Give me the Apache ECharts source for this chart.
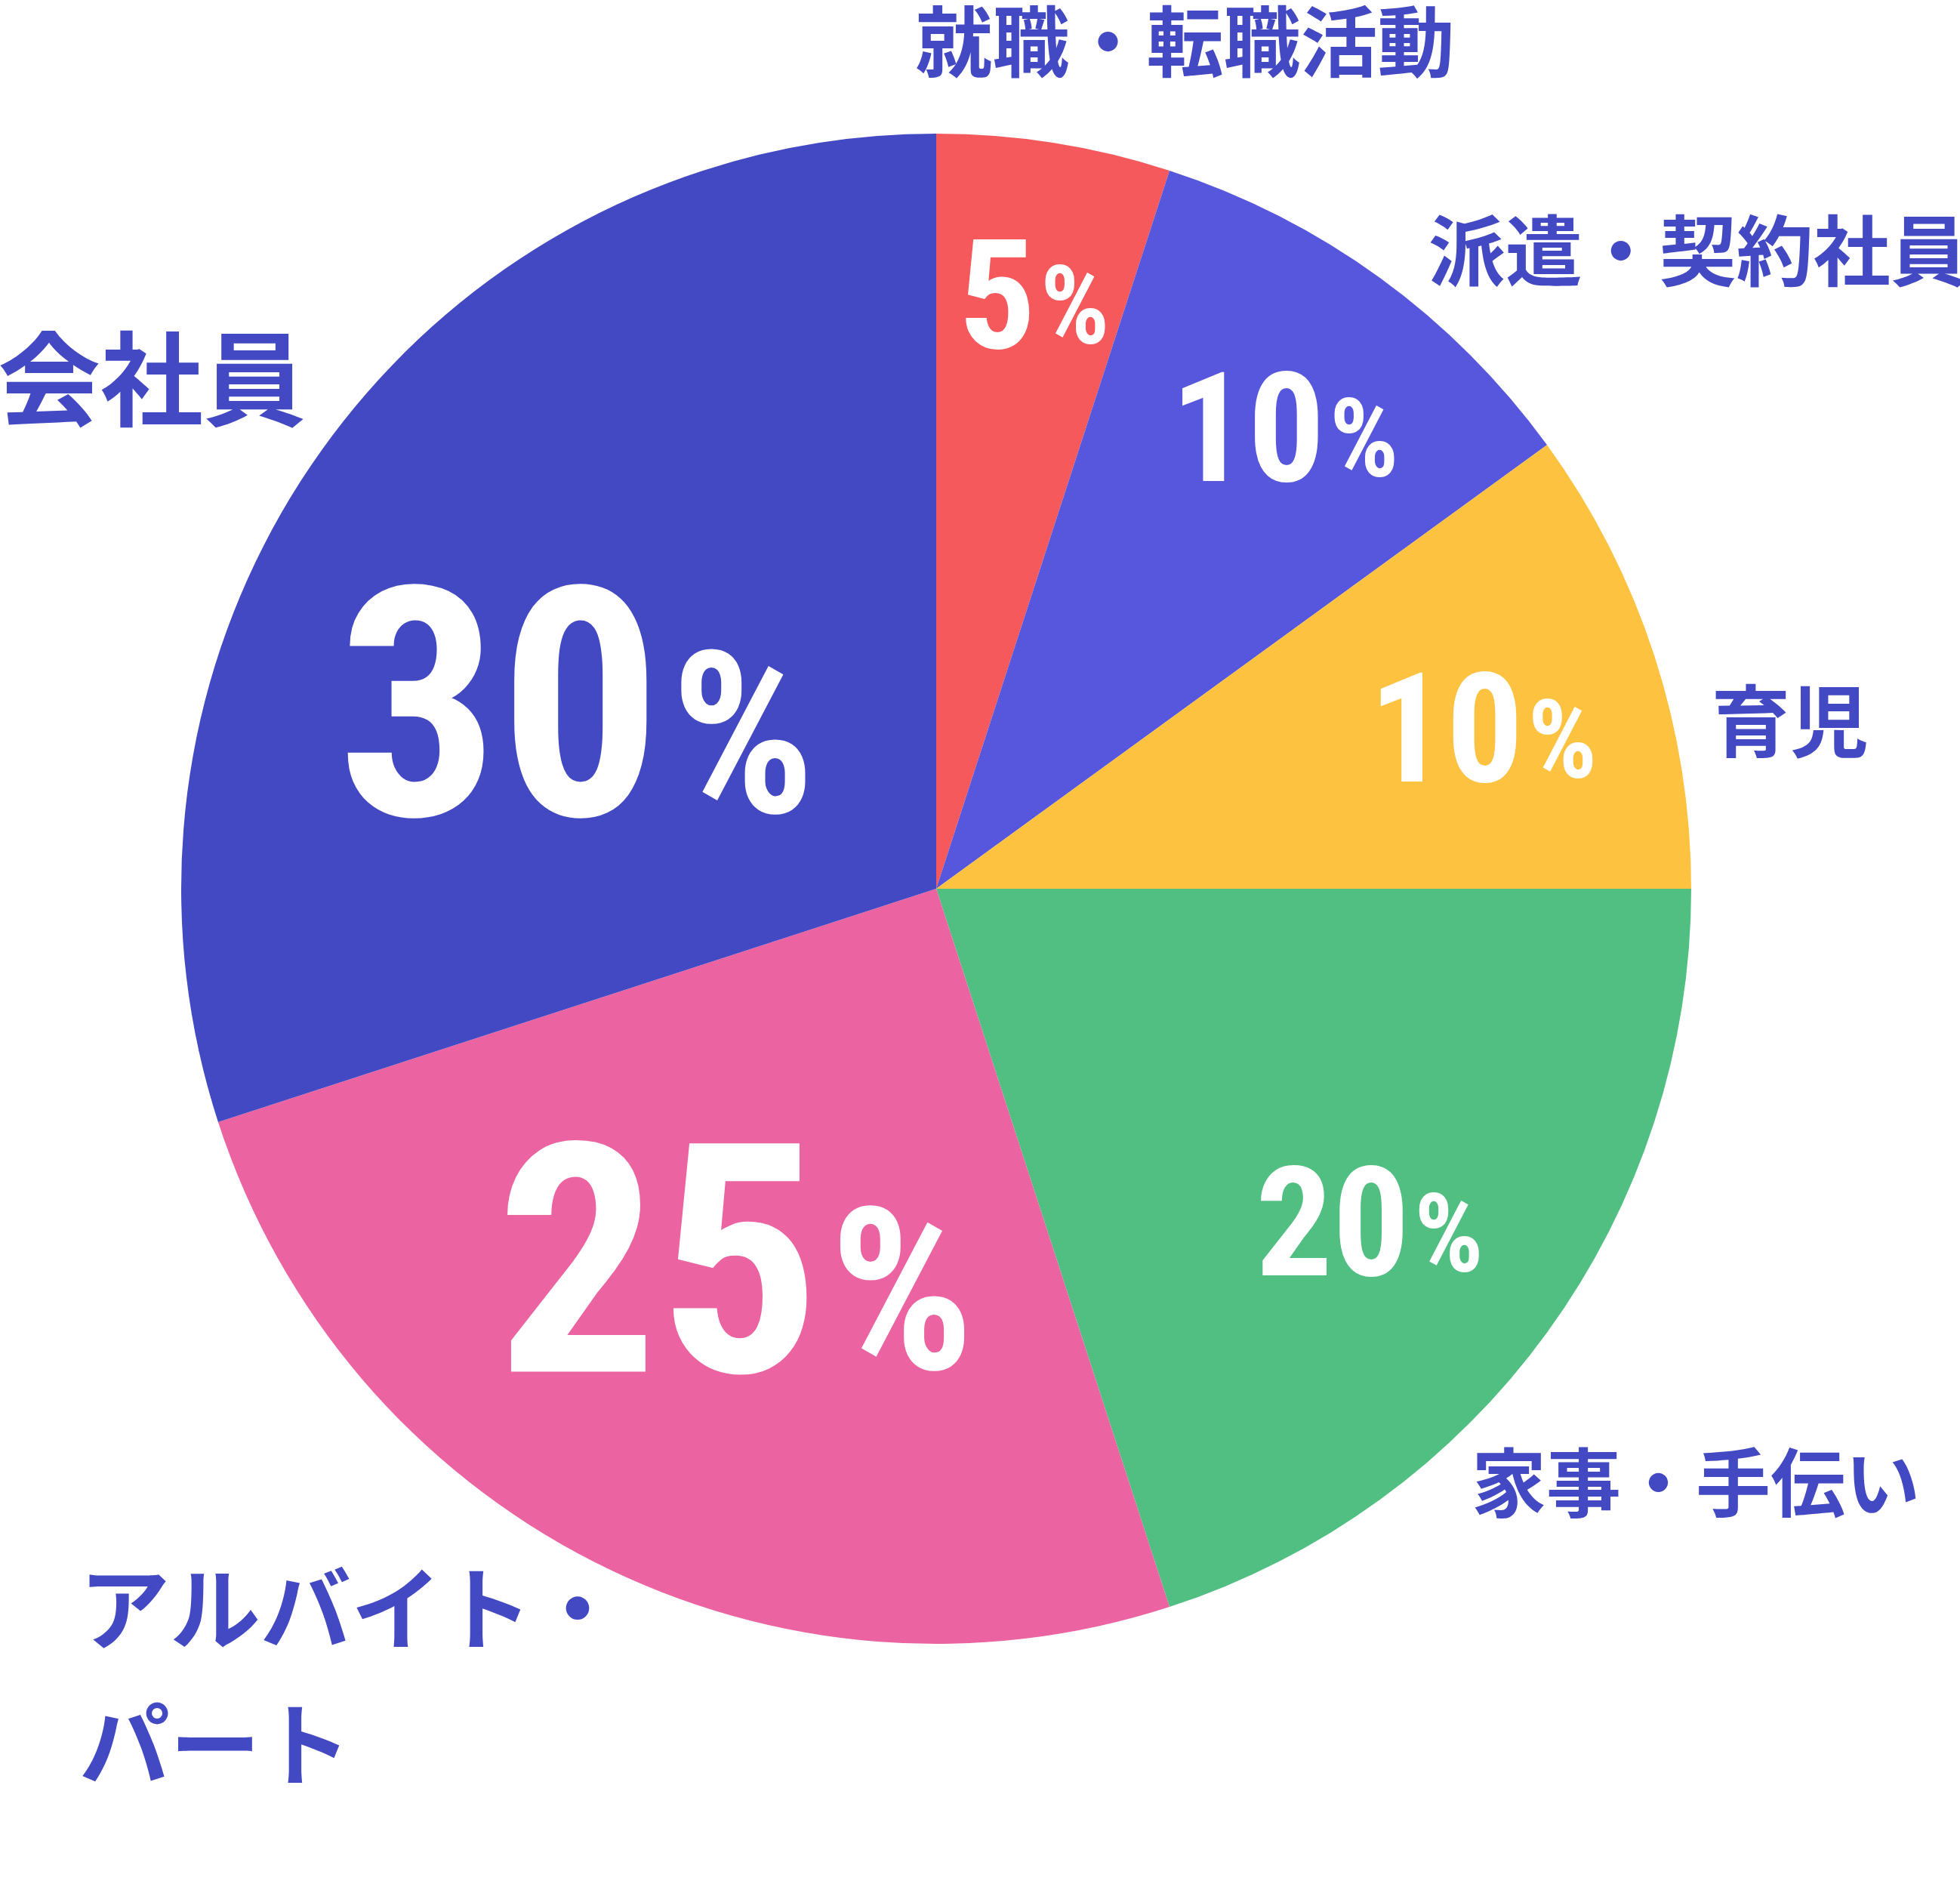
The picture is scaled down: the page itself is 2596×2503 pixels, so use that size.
<!DOCTYPE html>
<html lang="ja">
<head>
    <meta charset="UTF-8">
    <title>円グラフ</title>
    <style>
        html, body { margin: 0; padding: 0; background: #ffffff; }
        #chart { width: 2596px; height: 2503px; }
    </style>
</head>
<body>
    <div id="chart"></div>
    <script src="https://cdn.jsdelivr.net/npm/echarts@6/dist/echarts.min.js"></script>
    <script>
        // 項目名と割合（%）
        const categories = ['就職・転職活動', '派遣・契約社員', '育児', '家事・手伝い', 'アルバイト・\nパート', '会社員'];
        const values = [5, 10, 10, 20, 25, 30];

        // 扇形の色
        const colors = ['#f5595c', '#5757dd', '#fdc23f', '#52bf82', '#eb63a1', '#4249c3'];

        // ラベル位置の微調整（標準位置からのずれ）
        const innerShift = [[51, -270], [166, -184], [246, -37], [167, 166], [-38, 85], [-70, 92]];
        const outerShift = [[-184, -134], [64, -36], [76, 88], [-100, 199], [-681, 152], [-26, -87]];
        const outerSize = [102, 102, 104, 99, 120, 136];

        const digitFont = '"Roboto Condensed", "Noto Sans", Roboto, sans-serif';
        const digitWeight = 'bold condensed';

        const chart = echarts.init(document.getElementById('chart'));

        const pieBase = {
            type: 'pie',
            center: [1240, 1177],
            radius: 1000,
            startAngle: 90,
            clockwise: true,
            silent: true,
            animation: false,
            avoidLabelOverlap: false,
            labelLine: { show: false, length: 0, length2: 0 }
        };

        chart.setOption({
            backgroundColor: '#ffffff',
            series: [
                // 本体＋内側の％表示
                Object.assign({}, pieBase, {
                    itemStyle: { borderWidth: 0 },
                    label: {
                        position: 'inside',
                        formatter: (p) => p.value >= 25
                            ? '{N|' + p.value + '}{P|%}'
                            : '{n|' + p.value + '}{p|%}',
                        rich: {
                            N: { fontFamily: digitFont, fontWeight: digitWeight, fontSize: 425, lineHeight: 425, color: '#fff', verticalAlign: 'bottom' },
                            P: { fontFamily: digitFont, fontWeight: digitWeight, fontSize: 300, lineHeight: 340, color: '#fff', verticalAlign: 'bottom', padding: [0, 0, 35, 12] },
                            n: { fontFamily: digitFont, fontWeight: digitWeight, fontSize: 202, lineHeight: 202, color: '#fff', verticalAlign: 'bottom' },
                            p: { fontFamily: digitFont, fontWeight: digitWeight, fontSize: 144, lineHeight: 202, color: '#fff', verticalAlign: 'bottom', padding: [0, 0, 20, 6] }
                        }
                    },
                    labelLayout: (p) => ({ dx: innerShift[p.dataIndex][0], dy: innerShift[p.dataIndex][1] }),
                    data: values.map((v, i) => ({ name: categories[i], value: v, itemStyle: { color: colors[i] } }))
                }),
                // 外側の項目名（扇形は透明）
                Object.assign({}, pieBase, {
                    z: 3,
                    itemStyle: { color: 'rgba(0,0,0,0)', borderWidth: 0 },
                    label: {
                        position: 'outside',
                        distanceToLabelLine: 0,
                        color: '#4349c3',
                        fontFamily: 'Noto Sans CJK JP',
                        fontWeight: 'bold',
                        formatter: '{b}'
                    },
                    labelLayout: (p) => {
                        const o = { dx: outerShift[p.dataIndex][0], dy: outerShift[p.dataIndex][1] };
                        if (p.dataIndex === 4) o.align = 'left';
                        return o;
                    },
                    data: values.map((v, i) => ({
                        name: categories[i],
                        value: v,
                        label: { fontSize: outerSize[i], lineHeight: Math.round(outerSize[i] * 1.5) }
                    }))
                })
            ]
        });
    </script>
</body>
</html>
